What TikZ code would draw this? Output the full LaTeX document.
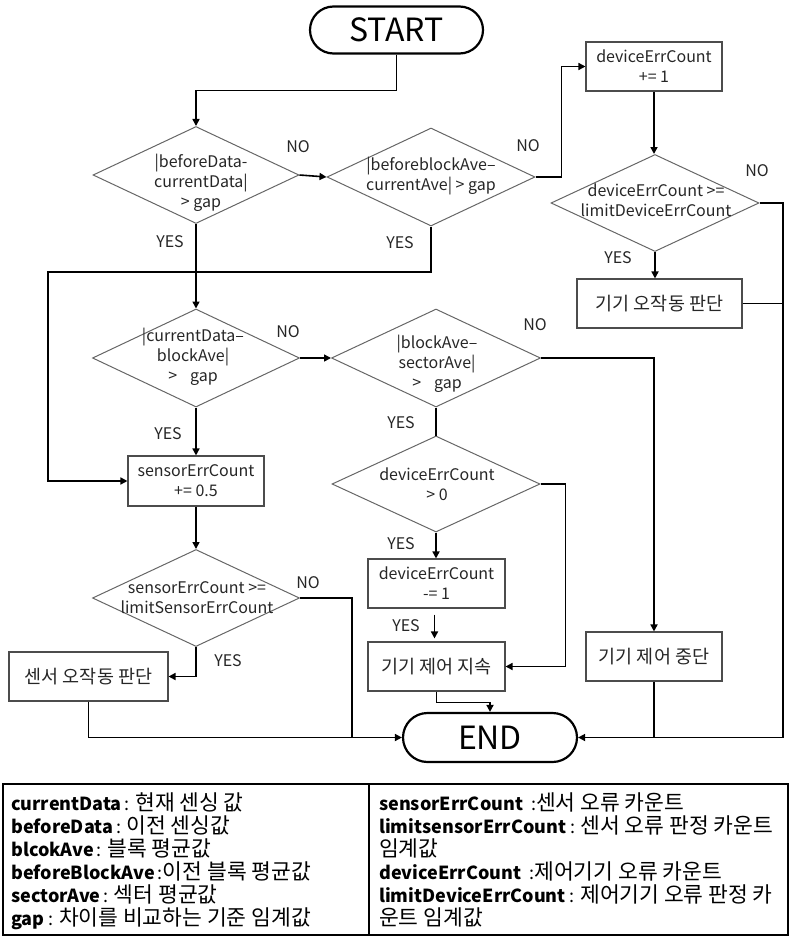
\documentclass[tikz,border=0pt]{standalone}
\usepackage{fontspec}
\setmainfont{Noto Sans CJK KR}
\usetikzlibrary{shapes.geometric,shapes.misc,arrows.meta}

% Hangul runs in the legend are set a little larger than the Latin terms
\newcommand{\ko}[1]{{\fontsize{21.5}{23}\selectfont #1}}

\begin{document}
\begin{tikzpicture}[x=1pt,y=-1pt,
  conn/.style={line width=1.6pt, draw=black},
  arr/.style={conn, -{Triangle[length=7pt,width=7pt]}},
  dia/.style={diamond, draw=black!60, line width=1pt, inner sep=0pt},
  box/.style={rectangle, draw=black!70, line width=1.1pt, inner sep=0pt,
              align=center, font=\fontsize{16}{20}\selectfont, text=black!85},
  kbox/.style={box, font=\fontsize{18.5}{22}\selectfont},
  term/.style={rounded rectangle, draw=black, line width=2.2pt, inner sep=0pt,
               font=\fontsize{32}{32}\selectfont},
  dtxt/.style={align=center, font=\fontsize{16}{20}\selectfont, text=black!85, inner sep=0pt},
  yn/.style={font=\fontsize{16}{18}\selectfont, text=black!85, inner sep=0pt},
  leg/.style={align=left, font=\fontsize{18}{23}\selectfont, text=black, inner sep=0pt},
]
\useasboundingbox (0,0) rectangle (791,939);

% terminals
\node[term, minimum width=173pt, minimum height=47pt] (start) at (396.5,30) {START};
\node[term, minimum width=174pt, minimum height=49pt] (end) at (490,737.5) {END};

% decisions
\node[dia, minimum width=206pt, minimum height=97pt] (d1) at (196,175) {};
\node[dia, minimum width=208pt, minimum height=98pt] (d2) at (431,177) {};
\node[dia, minimum width=208pt, minimum height=97pt] (d3) at (655,203) {};
\node[dia, minimum width=207pt, minimum height=98pt] (d4) at (196,358) {};
\node[dia, minimum width=209pt, minimum height=98pt] (d5) at (436,358) {};
\node[dia, minimum width=208pt, minimum height=96pt] (d6) at (436,484) {};
\node[dia, minimum width=207pt, minimum height=97pt] (d7) at (196,598) {};

\node[dtxt] (d1t) at (201,183) {|beforeData-\\currentData|\\> gap};
\node[dtxt] (d2t) at (431,176) {|beforeblockAve–\\currentAve| > gap};
\node[dtxt] (d3t) at (656,200) {deviceErrCount >=\\limitDeviceErrCount};
\node[dtxt] (d4t) at (193,357) {|currentData–\\blockAve|\\>\hspace{0.8em}gap};
\node[dtxt] (d5t) at (437,364) {|blockAve–\\sectorAve|\\>\hspace{0.8em}gap};
\node[dtxt] (d6t) at (437,484) {deviceErrCount\\> 0};
\node[dtxt] (d7t) at (197,598) {sensorErrCount >=\\limitSensorErrCount};

% process boxes
\node[box, minimum width=136pt, minimum height=49pt] (b1) at (654,66.5) {deviceErrCount\\+= 1};
\node[kbox, minimum width=165pt, minimum height=49pt] (b2) at (659.5,303.5) {기기 오작동 판단};
\node[box, minimum width=136pt, minimum height=50pt] (b3) at (196,481) {sensorErrCount\\+= 0.5};
\node[kbox, minimum width=136pt, minimum height=49pt] (b4) at (654,656.5) {기기 제어 중단};
\node[box, minimum width=137pt, minimum height=49pt] (b5) at (436.5,583.5) {deviceErrCount\\-= 1};
\node[kbox, minimum width=137pt, minimum height=49pt] (b6) at (436.5,666.5) {기기 제어 지속};
\node[kbox, minimum width=159pt, minimum height=49pt] (b7) at (88.5,676.5) {센서 오작동 판단};

% branch labels
\node[yn] (n1) at (298,147) {NO};
\node[yn] (n2) at (528,146) {NO};
\node[yn] (n3) at (757,171) {NO};
\node[yn] (n4) at (288,332) {NO};
\node[yn] (n5) at (535,325) {NO};
\node[yn] (n6) at (308,583) {NO};
\node[yn] (y1) at (170,242) {YES};
\node[yn] (y2) at (400,243) {YES};
\node[yn] (y3) at (618,258) {YES};
\node[yn] (y4) at (168,434) {YES};
\node[yn] (y5) at (401,423) {YES};
\node[yn] (y6) at (401,544) {YES};
\node[yn] (y7) at (406,626) {YES};
\node[yn] (y8) at (228,661) {YES};

% routing points
\coordinate (rc) at (783,737.5);
\coordinate (lc) at (48,272);
\coordinate (mid) at (352,737.5);

% connectors
\draw[arr] (start.south) -- ++(0,36) -| (d1.north);
\draw[arr] (d1.east) -- (d2.west);
\draw[arr] (d2.east) -- ++(26,0) |- (b1.west);
\draw[arr] (b1.south) -- (b1.south |- d3.north);
\draw[arr] (d3.east) -| (rc) -- (end.east);
\draw[arr] (d3.south) -- (d3.south |- b2.north);
\draw[conn] (b2.east) -- (b2.east -| rc);
\draw[arr] (d2.south) |- (lc) |- (b3.west);
\draw[arr] (d1.south) -- (d4.north);
\draw[arr] (d4.east) -- (d5.west);
\draw[arr] (d5.east) -| (b4.north);
\draw[conn] (b4.south) -- (b4.south |- end.east);
\draw[conn] (d5.south) -- (d6.north);
\draw[arr] (d6.east) -- ++(25,0) |- (b6.east);
\draw[arr] (d6.south) -- (d6.south |- b5.north);
\draw[arr, shorten <=6pt, shorten >=3pt] ([xshift=-2pt]b5.south) -- ([xshift=-2pt]b6.north);
\draw[arr] (b6.south) -- ++(0,11) -| (end.north);
\draw[arr] (d4.south) -- (b3.north);
\draw[arr] (b3.south) -- (d7.north);
\draw[conn] (d7.east) -| (mid);
\draw[arr] (d7.south) |- (b7.east);
\draw[arr] (b7.south) |- (end.west);

% legend
\draw[line width=2.4pt] (3,784) rectangle (788,935);
\draw[line width=1.2pt] (369,784) -- (369,935);
\node[leg, anchor=north west] (legL) at (11,793) {%
\textbf{currentData}\,: \ko{현재 센싱 값}\\
\textbf{beforeData}\,: \ko{이전 센싱값}\\
\textbf{blcokAve}\,: \ko{블록 평균값}\\
\textbf{beforeBlockAve}\,:\ko{이전 블록 평균값}\\
\textbf{sectorAve}\,: \ko{섹터 평균값}\\
\textbf{gap} : \ko{차이를 비교하는 기준 임계값}};
\node[leg, anchor=north west] (legR) at (379,793) {%
\textbf{sensorErrCount}\ \ :\ko{센서 오류 카운트}\\
\textbf{limitsensorErrCount} : \ko{센서 오류 판정 카운트}\\
\ko{임계값}\\
\textbf{deviceErrCount}\ \ :\ko{제어기기 오류 카운트}\\
\textbf{limitDeviceErrCount} : \ko{제어기기 오류 판정 카}\\
\ko{운트 임계값}};
\end{tikzpicture}
\end{document}
